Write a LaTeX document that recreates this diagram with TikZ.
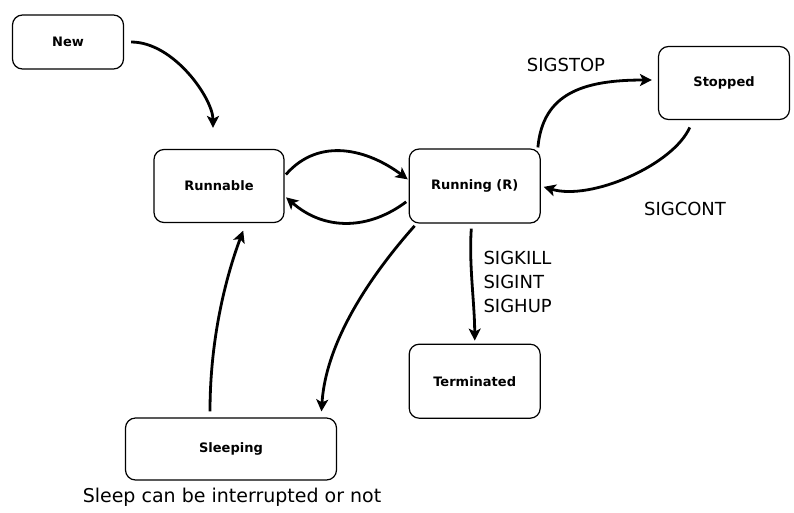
\documentclass[tikz,border=0pt]{standalone}
\usepackage{fontspec}
\setmainfont{DejaVu Sans}
\usetikzlibrary{arrows.meta}
\usetikzlibrary{positioning}

\begin{document}
\begin{tikzpicture}[x=1pt, y=-1pt,
    state/.style={draw, rounded corners=10pt, line width=1.2pt, minimum width=131pt, minimum height=74pt, inner sep=0pt, font=\fontsize{13}{15}\selectfont\bfseries},
    trans/.style={line width=2.8pt, -{Stealth[length=12pt, width=12pt, inset=3pt]}},
    sig/.style={font=\fontsize{18}{24}\selectfont},
    node distance=124pt]
    \useasboundingbox (0,0) rectangle (794,512);

    \node[state, minimum width=111pt, minimum height=54pt] (new) at (68,42) {New};
    \node[state, minimum width=130pt, minimum height=73pt] (runnable) at (219,186) {Runnable};
    \node[state] (running) [right=of runnable] {Running (R)};
    \node[state, minimum height=73pt] (stopped) at (724,83) {Stopped};
    \node[state] (terminated) [below=120pt of running] {Terminated};
    \node[state, minimum width=211pt, minimum height=62pt] (sleeping) at (231,449) {Sleeping};

    \node[sig] (sigstop) at (566,65) {SIGSTOP};
    \node[sig] (sigcont) at (685,209) {SIGCONT};
    \node[sig, align=left, anchor=west] (sigkill) at (480,282) {SIGKILL\\SIGINT\\SIGHUP};
    \node[sig, font=\fontsize{19}{24}\selectfont] (note) at (232,497) {Sleep can be interrupted or not};

    \draw[trans, shorten <=7pt, shorten >=21pt] (new.east) .. controls +(50,0) and +(0,-50) .. ([xshift=-6pt]runnable.north);
    \draw[trans, shorten <=2pt, shorten >=1pt] ([yshift=10pt]runnable.east) .. controls +(35,-40) and +(-40,-30) .. ([yshift=6pt]running.west);
    \draw[trans, shorten <=3pt, shorten >=2pt] ([yshift=-14pt]running.west) .. controls +(-40,30) and +(40,35) .. ([yshift=-10pt]runnable.east);
    \draw[trans, shorten <=1pt, shorten >=6pt] ([xshift=-3pt]running.north east) .. controls +(5,-55) and +(-75,0) .. ([yshift=3pt]stopped.west);
    \draw[trans, shorten <=8pt, shorten >=3pt] ([xshift=-31pt]stopped.south) .. controls +(-20,45) and +(50,15) .. (running.east);
    \draw[trans, shorten <=5pt, shorten >=3pt] ([xshift=-3pt]running.south) .. controls +(-3,40) and +(0,-40) .. (terminated.north);
    \draw[trans, shorten <=3pt, shorten >=6pt] ([xshift=8pt]running.south west) .. controls +(-40,45) and +(5,-80) .. ([xshift=-16pt]sleeping.north east);
    \draw[trans, shorten <=6pt, shorten >=8pt] ([xshift=-21pt]sleeping.north) .. controls +(0,-90) and +(-15,40) .. ([xshift=27pt]runnable.south);
\end{tikzpicture}
\end{document}
